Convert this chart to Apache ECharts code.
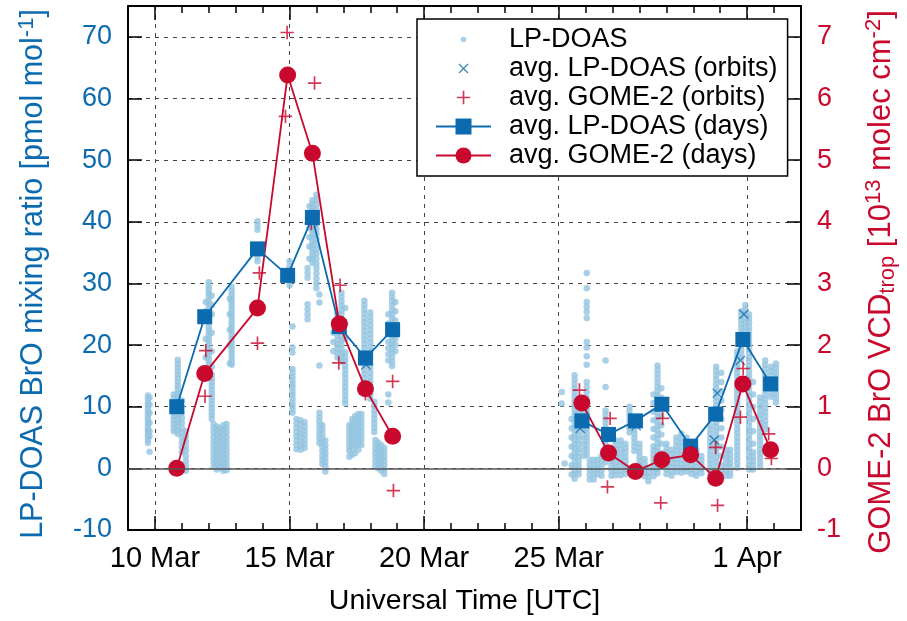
<!DOCTYPE html>
<html>
<head>
<meta charset="utf-8">
<script src="https://cdn.jsdelivr.net/npm/echarts@6/dist/echarts.min.js"></script>
<style>
html, body { margin: 0; padding: 0; background: #fff; }
#chart { width: 907px; height: 621px; }
</style>
</head>
<body>
<div id="chart"></div>
<script>
(function () {
    // time is day of March (32 = 1 Apr)
    var dayTicks = [10, 15, 20, 25, 32];
    var dayTickLabels = ['10 Mar', '15 Mar', '20 Mar', '25 Mar', '1 Apr'];

    // daily averages
    var dailyTimes = [10.81, 11.85, 13.81, 14.93, 15.85, 16.85, 17.82, 18.83, 25.86, 26.85, 27.85, 28.83, 29.90, 30.83, 31.84, 32.87];
    var lpDaily = [10.0, 24.6, 35.6, 31.3, 40.7, 23.0, 17.9, 22.5, 7.7, 5.5, 7.7, 10.4, 3.6, 8.8, 20.9, 13.7];
    var gomeDaily = [0.0, 1.54, 2.60, 6.38, 5.11, 2.34, 1.29, 0.52, 1.06, 0.25, -0.05, 0.14, 0.22, -0.16, 1.37, 0.30];

    // averages over GOME-2 overpasses
    var lpOrbitTimes = [15.86, 16.83, 17.84, 25.80, 27.88, 30.78, 30.89, 31.75, 31.88];
    var lpOrbit = [40.1, 22.9, 16.8, 6.5, 6.9, 4.6, 12.2, 17.5, 25.0];
    var gomeOrbitTimes = [11.86, 11.89, 13.81, 13.88, 14.85, 14.91, 15.81, 15.93, 16.83, 16.88, 17.82, 18.83, 18.86,
        25.77, 26.81, 26.91, 28.79, 28.86, 30.83, 30.90, 31.75, 31.85, 32.80, 32.90];
    var gomeOrbit = [1.17, 1.91, 2.03, 3.17, 5.71, 7.07, 3.97, 6.25, 1.71, 2.97, 1.21, 1.41, -0.36,
        1.27, -0.30, 0.81, -0.56, 0.81, 0.34, -0.60, 0.83, 1.62, 0.56, 0.16];

    var lpCols = [
        [9.74, [11.8, 11.2, 10.6, 10.1, 9.6, 9.1, 8.6, 8.1, 7.6, 7.1, 6.6, 6.1, 5.6, 5.1, 4.6, 4.1]],
        [9.80, [11.5, 10.3, 9.0, 7.4, 6.0, 5.2, 2.7]],
        [10.70, [12.0, 11.4, 10.8, 10.2, 9.6, 9.0, 8.4, 7.8, 7.2, 6.6, 6.0]],
        [10.85, [17.6, 17.0, 16.4, 15.8, 15.2, 14.6, 14.0, 13.4, 12.8, 12.2, 11.6, 11.0, 10.4, 9.8, 9.2, 8.6, 8.0, 7.4, 6.8, 6.2, 5.6]],
        [11.00, [11.0, 10.0, 9.0, 8.2, 7.4, 6.6, 5.8, 5.0, 4.2, 3.4, 2.6]],
        [11.15, [6.0, 5.2, 4.4, 3.6, 2.8, 2.0, 1.2, 0.4, -0.4]],
        [11.89, [27.0, 25.5, 24.0, 21.0, 18.0]],
        [12.00, [30.2, 29.6, 29.0, 28.4, 27.8, 27.2, 26.6, 26.0, 25.4, 24.8, 24.2, 23.6, 23.0, 22.4, 21.8, 21.2, 20.6, 20.0, 19.4, 18.8, 18.2, 17.6, 17.0, 16.4, 15.8]],
        [12.11, [28.0, 26.5, 25.0, 22.0, 19.0, 16.5, 15.2, 14.6, 14.0, 13.4, 12.8, 12.2, 11.6, 11.0, 10.4, 9.8, 9.2, 8.6, 8.0]],
        [12.18, [7.2, 6.5, 5.8, 5.1, 4.4, 3.7, 3.0, 2.3, 1.6, 0.9, 0.2]],
        [12.30, [6.8, 6.1, 5.4, 4.7, 4.0, 3.3, 2.6, 1.9, 1.2, 0.5, -0.2]],
        [12.42, [6.5, 5.8, 5.1, 4.4, 3.7, 3.0, 2.3, 1.6, 0.9, 0.2]],
        [12.54, [7.0, 6.3, 5.6, 4.9, 4.2, 3.5, 2.8, 2.1, 1.4, 0.7, 0.0, -0.4]],
        [12.66, [7.2, 6.5, 5.8, 5.1, 4.4, 3.7, 3.0, 2.3, 1.6, 0.9, 0.2, -0.3]],
        [12.78, [27.5, 25.0, 22.5, 20.0, 17.0]],
        [12.85, [29.4, 28.8, 28.2, 27.6, 27.0, 26.4, 25.8, 25.2, 24.6, 24.0, 23.4, 22.8, 22.2, 21.6, 21.0, 20.4, 19.8, 19.2, 18.6, 18.0, 17.4, 16.8]],
        [13.81, [40.1, 39.4, 38.7, 35.0, 34.3, 33.6]],
        [15.00, [33.6, 32.8, 32.0, 31.2, 30.4, 29.7]],
        [15.11, [23.0, 19.6, 18.8, 16.1, 15.5, 14.9, 14.3, 13.7, 13.1, 12.5, 11.9, 11.3, 10.7, 10.1, 9.5, 9.0]],
        [15.26, [8.0, 7.3, 6.6, 5.9, 5.2, 4.5, 3.8, 3.1]],
        [15.41, [7.8, 7.1, 6.4, 5.7, 5.0, 4.3, 3.6, 3.0]],
        [15.56, [7.5, 6.8, 6.1, 5.4, 4.7, 4.0, 3.3]],
        [15.67, [32.5, 31.7, 30.9, 26.6, 25.8, 25.0, 24.2]],
        [15.74, [42.5, 41.5, 40.5, 39.0, 37.5, 36.0, 34.0]],
        [15.85, [43.5, 42.9, 42.3, 41.7, 41.1, 40.5, 39.9, 39.3, 38.7, 38.1, 37.5, 36.9, 36.3, 35.7, 35.1, 34.5, 33.9, 33.3]],
        [16.00, [44.4, 43.6, 42.8, 42.0, 41.2, 40.4, 39.6, 38.8, 38.0, 37.2, 36.4, 35.6, 34.8, 34.0, 33.2, 32.4, 31.6, 30.8, 30.0, 29.2]],
        [16.11, [28.2, 26.9, 16.7, 9.0, 8.3, 7.6, 6.9, 6.2, 5.5, 4.8, 4.1]],
        [16.22, [7.0, 6.3, 5.6, 4.9, 4.2, 3.5, 2.8, 2.1, 1.4, 0.7]],
        [16.33, [4.5, 3.8, 3.1, 2.4, 1.7, 1.0, 0.3, -0.5]],
        [16.63, [22.0, 20.5, 19.0]],
        [16.78, [25.0, 24.3, 23.6, 22.9, 22.2, 21.5, 20.8, 20.1, 19.4, 18.7, 18.0]],
        [16.93, [28.5, 27.8, 27.1, 26.4, 25.7, 25.0, 24.3, 23.6, 22.9, 22.2, 21.5, 20.8, 20.1, 19.4, 18.7, 18.0, 17.3]],
        [17.07, [26.0, 23.5, 21.0, 18.8, 18.1, 17.4, 16.7, 16.0, 15.3, 14.6, 13.9, 13.2, 12.5, 11.8, 11.1, 10.5]],
        [17.22, [7.0, 6.3, 5.6, 4.9, 4.2, 3.5, 2.8, 1.9]],
        [17.33, [8.0, 7.3, 6.6, 5.9, 5.2, 4.5, 3.8, 3.1, 2.2]],
        [17.44, [8.5, 7.8, 7.1, 6.4, 5.7, 5.0, 4.3, 3.6, 2.5]],
        [17.56, [8.8, 8.1, 7.4, 6.7, 6.0, 5.3, 4.6, 3.9, 3.0]],
        [17.67, [8.8, 8.1, 7.4, 6.7, 6.0, 5.3, 4.6, 3.8]],
        [17.78, [27.2, 26.5, 25.8, 25.1, 24.4, 23.7, 23.0, 22.3, 21.6, 20.9, 20.2, 19.5, 18.8, 18.1, 17.4, 16.7, 16.0, 15.3, 14.6, 13.9, 13.2, 12.5]],
        [18.00, [25.3, 24.6, 23.9, 23.2, 22.5, 21.8, 21.1, 20.4, 19.7, 19.0, 18.3, 17.6, 16.9, 16.2, 15.5, 14.8, 14.1, 13.4, 12.7, 12.0, 11.3]],
        [18.15, [10.8, 10.1, 9.4, 8.7, 8.0, 7.3, 6.6, 5.9]],
        [18.19, [4.6, 3.9, 3.2, 2.5, 1.8, 1.1, 0.4]],
        [18.30, [4.2, 3.5, 2.8, 2.1, 1.4, 0.7, 0.0]],
        [18.41, [3.8, 3.1, 2.4, 1.7, 1.0, 0.3, -0.4]],
        [18.52, [3.3, 2.6, 1.9, 1.2, 0.5, -0.2, -0.9]],
        [18.67, [25.0, 23.5, 22.0, 20.5, 19.5, 18.5, 17.5, 12.0, 10.7]],
        [18.81, [28.5, 27.8, 27.1, 26.4, 25.7, 25.0, 24.3, 23.6, 22.9, 22.2, 21.5, 20.8, 20.1, 19.4, 18.7, 18.0, 17.3, 16.6]],
        [18.93, [27.0, 25.5, 24.0, 23.0, 22.0, 21.0, 20.0, 19.0]],
        [25.11, [12.4, 10.5]],
        [25.22, [0.8]],
        [25.48, [8.0, 6.5, 5.0, 3.5, 2.0, 0.5, -1.0]],
        [25.59, [15.1, 14.4, 13.7, 13.0, 12.3, 11.6, 10.9, 10.2, 9.5, 8.8, 8.1, 7.4, 6.7, 6.0, 5.3, 4.6, 3.9, 3.2, 2.5, 1.8, 1.1, 0.4, -0.3, -1.0, -1.7]],
        [25.74, [11.0, 9.5, 8.8, 8.1, 7.4, 6.7, 6.0, 5.3, 4.6, 3.9, 3.2, 2.5, 1.8, 1.1, 0.4, -0.3, -1.0]],
        [25.93, [9.0, 8.0, 7.0, 6.0, 5.0, 4.0, 3.0, 2.0]],
        [26.04, [31.7, 29.2, 27.0, 26.2, 25.4, 24.4, 20.5, 19.6, 18.2, 16.8, 14.0, 13.2, 12.4, 11.4, 10.7, 10.0, 9.3, 8.6, 7.9, 7.2, 6.5, 5.8, 5.1, 4.4, 3.7, 3.0, 2.3]],
        [26.15, [1.4, 0.6, -0.2, -1.0, -1.8]],
        [26.30, [1.4, 0.6, -0.2, -1.0, -1.8]],
        [26.44, [1.4, 0.6, -0.2, -1.0]],
        [26.59, [2.0, 1.2, 0.4, -0.4, -1.2]],
        [26.74, [17.5, 13.2, 9.4, 8.7, 8.0, 7.3, 6.6, 5.9, 5.2, 4.5, 3.8, 3.1, 2.4, 1.7, 1.0]],
        [26.96, [2.0, 1.2, 0.4, -0.4, -1.2]],
        [27.11, [4.5, 3.8, 3.1, 2.4, 1.7, 1.0, 0.3, -0.4, -1.1]],
        [27.30, [4.5, 3.8, 3.1, 2.4, 1.7, 1.0, 0.3, -0.4, -1.1]],
        [27.48, [4.0, 3.3, 2.6, 1.9, 1.2, 0.5, -0.2, -0.9]],
        [27.63, [10.0, 9.3, 8.6, 7.9, 7.2, 6.5, 5.8]],
        [27.81, [7.0, 6.3, 5.6, 4.9, 4.2, 3.5, 2.8]],
        [28.00, [4.0, 3.3, 2.6, 1.9, 1.2, 0.5]],
        [28.19, [1.5, 0.8, 0.1, -0.6, -1.3]],
        [28.33, [0.0, -0.7, -1.4, -2.1]],
        [28.52, [12.0, 10.6, 9.2, 7.8, 6.4, 5.0, 3.6, 2.9, 2.2, 1.5, 0.8, 0.1, -0.6, -1.3]],
        [28.67, [16.7, 16.0, 15.3, 14.6, 13.9, 13.2, 12.5, 11.8, 11.1, 10.4, 9.7, 9.0, 8.3, 7.6, 6.9, 6.2, 5.5, 4.8, 4.1, 3.4, 2.7, 2.0, 1.3, 0.6, -0.1, -0.8]],
        [28.81, [13.0, 11.5, 10.0, 8.5, 7.0, 5.5, 4.0, 2.5, 1.0]],
        [29.00, [4.0, 3.3, 2.6, 1.9, 1.2, 0.5, -0.2, -0.9]],
        [29.19, [3.0, 2.3, 1.6, 0.9, 0.2, -0.5, -1.2]],
        [29.37, [5.0, 4.3, 3.6, 2.9, 2.2, 1.5, 0.8, 0.1, -0.6]],
        [29.56, [5.6, 4.9, 4.2, 3.5, 2.8, 2.1, 1.4, 0.7, 0.0, -0.7]],
        [29.74, [5.0, 4.3, 3.6, 2.9, 2.2, 1.5, 0.8, 0.1, -0.5]],
        [29.93, [4.0, 3.3, 2.6, 1.9, 1.2, 0.5, -0.2, -0.9]],
        [30.11, [3.0, 2.3, 1.6, 0.9, 0.2, -0.5, -1.2]],
        [30.30, [2.0, 1.3, 0.6, -0.1, -0.8]],
        [30.63, [7.0, 6.3, 5.6, 4.9, 4.2, 3.5, 2.8, 2.1, 1.4, 0.7, 0.0, -0.7]],
        [30.85, [16.5, 15.8, 15.1, 14.4, 13.7, 13.0, 12.3, 11.6, 10.9, 10.2, 9.5, 8.8, 8.1, 7.4, 6.7, 6.0, 5.3, 4.6, 3.9, 3.2, 2.5, 1.8, 1.1, 0.4]],
        [31.04, [15.5, 14.0, 12.5, 11.0, 9.5, 8.0, 6.5, 5.0, 3.5, 2.0, 0.5, -0.5]],
        [31.22, [3.0, 2.3, 1.6, 0.9, 0.2, -0.5, -1.2]],
        [31.37, [3.0, 2.3, 1.6, 0.9, 0.2, -0.5, -1.2]],
        [31.63, [19.0, 18.3, 17.6, 16.9, 16.2, 15.5, 14.8, 14.1, 13.4, 12.7, 12.0, 11.3, 10.6, 9.9, 9.2, 8.5, 7.8, 7.1, 6.4, 5.7, 5.0, 4.3, 3.6, 2.9, 2.2, 1.5, 0.8, 0.1]],
        [31.78, [25.5, 24.8, 24.1, 23.4, 22.7, 22.0, 21.3, 20.6, 19.9, 19.2, 18.5, 17.8]],
        [31.93, [26.5, 25.8, 25.1, 24.4, 23.7, 23.0, 22.3, 21.6, 20.9]],
        [32.07, [25.0, 24.3, 23.6, 22.9, 22.2, 21.5, 20.8, 20.1, 19.4, 18.7, 18.0, 17.3, 16.6, 15.9, 15.2, 14.5, 13.8, 13.1, 12.4, 11.7, 11.0, 10.3, 9.6, 8.9, 8.2, 7.5, 6.8, 6.1, 5.4, 4.7, 4.0, 3.3, 2.6, 1.9, 1.2, 0.5, -0.2]],
        [32.22, [14.0, 12.0, 10.0, 8.0, 6.0, 4.0, 2.6, 1.9, 1.2, 0.5, -0.2]],
        [32.48, [11.5, 10.8, 10.1, 9.4, 8.7, 8.0, 7.3, 6.6, 5.9, 5.2, 4.5, 3.8, 3.1, 2.4, 1.7, 1.0, 0.3]],
        [32.67, [17.5, 16.8, 16.1, 15.4, 14.7, 14.0, 13.3, 12.6, 11.9, 11.2, 10.5, 9.8, 9.1, 8.4, 7.7, 7.0, 6.3]],
        [32.89, [16.5, 15.8, 15.1, 14.4, 13.7, 13.0, 12.3, 11.6]],
        [33.07, [17.0, 16.3, 15.6, 14.9, 14.2, 13.5, 12.8, 12.1, 11.4, 10.7]]
    ];

    var BLUE = '#0b6bae';
    var RED = '#c9082d';
    var LIGHT = '#93c4e0';
    var FONT = 'Liberation Sans';

    // symbols drawn in a 20x20 box so that legend and plot use the same size
    var dotPath = 'path://M0,0L0,0M20,20L20,20M7.2,10a2.8,2.8 0 1,0 5.6,0a2.8,2.8 0 1,0 -5.6,0Z';
    var crossPath = 'path://M0,0L0,0M20,20L20,20M5,5.9L5.9,5L10,9.1L14.1,5L15,5.9L10.9,10L15,14.1L14.1,15L10,10.9L5.9,15L5,14.1L9.1,10Z';
    var plusPath = 'path://M0,0L0,0M20,20L20,20M9.15,3.3H10.85V9.15H16.7V10.85H10.85V16.7H9.15V10.85H3.3V9.15H9.15Z';

    var lpPoints = [];
    lpCols.forEach(function (c) {
        c[1].forEach(function (v) { lpPoints.push([c[0], v]); });
    });

    function pairs(t, v) {
        return t.map(function (x, i) { return [x, v[i]]; });
    }

    // break the daily lines across the gap without measurements
    function dailyLine(v) {
        var out = [];
        dailyTimes.forEach(function (x, i) {
            if (i > 0 && x - dailyTimes[i - 1] > 3) out.push([x - 1, '-']);
            out.push([x, v[i]]);
        });
        return out;
    }

    var myChart = echarts.init(document.getElementById('chart'));

    var dashed = { show: true, lineStyle: { color: '#444', width: 1, type: [4, 5] } };

    function xAxisBase(pos, major) {
        return {
            type: 'value', min: 9, max: 34, position: pos,
            interval: major ? undefined : 1,
            axisLine: { show: major, onZero: false, lineStyle: { color: '#000', width: 2 } },
            axisTick: major
                ? { inside: true, length: 14, customValues: dayTicks, lineStyle: { color: '#000', width: 1.5 } }
                : { inside: true, length: 7, lineStyle: { color: '#000', width: 1.5 } },
            axisLabel: { show: false },
            splitLine: { show: false }
        };
    }

    var xMain = xAxisBase('bottom', true);
    xMain.axisLabel = {
        show: true, customValues: dayTicks, margin: 14, color: '#000',
        fontFamily: FONT, fontSize: 29,
        formatter: function (v) { return dayTickLabels[dayTicks.indexOf(v)]; }
    };
    xMain.splitLine = dashed;
    xMain.name = 'Universal Time [UTC]';
    xMain.nameLocation = 'middle';
    xMain.nameGap = 57;
    xMain.nameTextStyle = { fontFamily: FONT, fontSize: 28.5, color: '#000' };

    var option = {
        animation: false,
        backgroundColor: '#fff',
        grid: { left: 128, right: 104, top: 6, bottom: 88 },
        legend: {
            orient: 'vertical', left: 417, top: 19,
            backgroundColor: '#fff', borderColor: '#000', borderWidth: 1.5, borderRadius: 0,
            padding: [7, 10, 7, 18], itemGap: 2, itemWidth: 55, itemHeight: 20,
            textStyle: { fontFamily: FONT, fontSize: 27, color: '#000', padding: [0, 0, 0, 13] },
            selectedMode: false,
            data: [
                { name: 'LP-DOAS', icon: dotPath },
                { name: 'avg. LP-DOAS (orbits)', icon: crossPath },
                { name: 'avg. GOME-2 (orbits)', icon: plusPath },
                'avg. LP-DOAS (days)',
                'avg. GOME-2 (days)'
            ]
        },
        xAxis: [xMain, xAxisBase('bottom', false), xAxisBase('top', true), xAxisBase('top', false)],
        yAxis: [{
            type: 'value', min: -10, max: 75, interval: 10, position: 'left',
            axisLine: { show: true, onZero: false, lineStyle: { color: '#000', width: 2 } },
            axisTick: { inside: true, length: 14, lineStyle: { color: '#000', width: 1.5 } },
            axisLabel: { showMaxLabel: false, margin: 16, color: BLUE, fontFamily: FONT, fontSize: 27 },
            splitLine: dashed,
            name: 'LP-DOAS BrO mixing ratio [pmol mol{sup|-1}]',
            nameLocation: 'middle', nameRotate: 90, nameGap: 76,
            nameTextStyle: {
                fontFamily: FONT, fontSize: 30.5, color: BLUE, padding: [0, 12, 0, 0],
                rich: { sup: { fontFamily: FONT, fontSize: 22, color: BLUE, verticalAlign: 'top', lineHeight: 36 } }
            }
        }, {
            type: 'value', min: -1, max: 7.5, interval: 1, position: 'right',
            axisLine: { show: true, onZero: false, lineStyle: { color: '#000', width: 2 } },
            axisTick: { inside: true, length: 14, lineStyle: { color: '#000', width: 1.5 } },
            axisLabel: { showMaxLabel: false, margin: 16, color: RED, fontFamily: FONT, fontSize: 27 },
            splitLine: { show: false },
            name: 'GOME-2 BrO VCD{sub|trop} [10{sup|13} molec cm{sup|-2}]',
            nameLocation: 'middle', nameRotate: 90, nameGap: 62,
            nameTextStyle: {
                fontFamily: FONT, fontSize: 31, color: RED, padding: [0, 28, 0, 0],
                rich: {
                    sup: { fontFamily: FONT, fontSize: 22, color: RED, verticalAlign: 'top', lineHeight: 36 },
                    sub: { fontFamily: FONT, fontSize: 22, color: RED, verticalAlign: 'bottom', lineHeight: 36 }
                }
            }
        }],
        series: [{
            name: 'LP-DOAS', type: 'scatter', silent: true,
            data: lpPoints, symbol: 'circle', symbolSize: 6.5,
            itemStyle: { color: LIGHT },
            markLine: {
                silent: true, symbol: ['none', 'none'], label: { show: false },
                lineStyle: { color: '#555', width: 1.5, type: 'solid' },
                data: [{ yAxis: 0 }]
            }
        }, {
            name: 'avg. LP-DOAS (orbits)', type: 'scatter', silent: true,
            data: pairs(lpOrbitTimes, lpOrbit), symbol: crossPath, symbolSize: 20,
            itemStyle: { color: BLUE }
        }, {
            name: 'avg. GOME-2 (orbits)', type: 'scatter', silent: true, yAxisIndex: 1,
            data: pairs(gomeOrbitTimes, gomeOrbit), symbol: plusPath, symbolSize: 20,
            itemStyle: { color: RED }
        }, {
            name: 'avg. LP-DOAS (days)', type: 'line', silent: true,
            data: dailyLine(lpDaily), symbol: 'rect', symbolSize: 15, showAllSymbol: true,
            itemStyle: { color: BLUE }, lineStyle: { color: BLUE, width: 1.8 }
        }, {
            name: 'avg. GOME-2 (days)', type: 'line', silent: true, yAxisIndex: 1,
            data: dailyLine(gomeDaily), symbol: 'circle', symbolSize: 17, showAllSymbol: true,
            itemStyle: { color: RED }, lineStyle: { color: RED, width: 1.8 }
        }]
    };

    myChart.setOption(option);
})();
</script>
</body>
</html>
